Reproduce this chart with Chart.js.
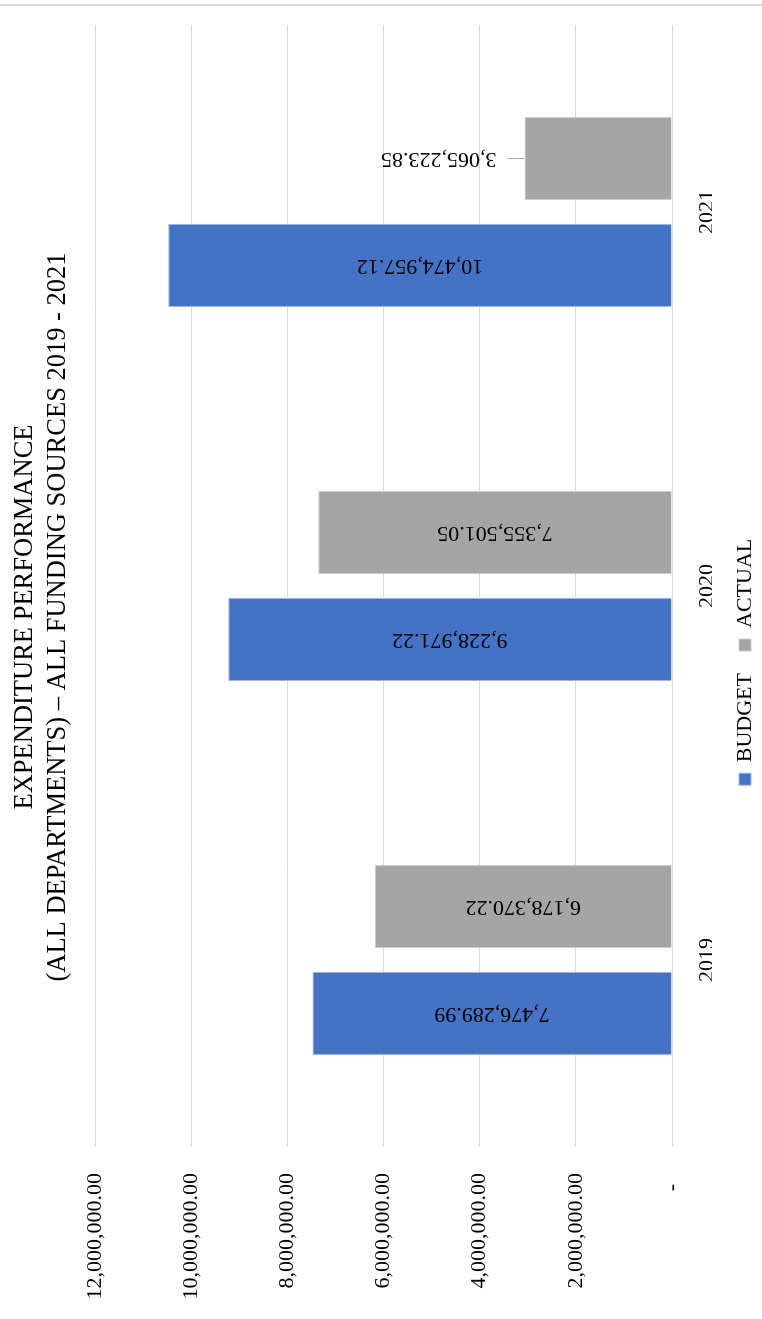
<!DOCTYPE html>
<html>
<head>
<meta charset="utf-8">
<title>Expenditure Performance 2019 - 2021</title>
<script src="https://cdn.jsdelivr.net/npm/chart.js@4/dist/chart.umd.min.js"></script>
<style>
  html, body { margin: 0; padding: 0; background: #ffffff; overflow: hidden; }
  body { width: 762px; height: 1319px; position: relative; }
  /* thin rule across the top of the page */
  .rule { position: absolute; left: 0; top: 4px; width: 762px; height: 2px; background: #d6d6d6; }
  /* the column chart is laid out landscape and turned a quarter turn */
  .frame {
    position: absolute; left: 0; top: 0;
    width: 1319px; height: 762px;
    transform-origin: 0 0;
    transform: translateY(1319px) rotate(-90deg);
  }
</style>
</head>
<body>
<div class="rule"></div>
<div class="frame"><canvas id="chart" width="1319" height="762"></canvas></div>
<script>
const categories = ['2019', '2020', '2021'];
const budget = [7476289.99, 9228971.22, 10474957.12];
const actual = [6178370.22, 7355501.05, 3065223.85];
const valueTicks = [0, 2000000, 4000000, 6000000, 8000000, 10000000, 12000000];
// accounting style: zero shows as a dash padded like the decimals
const valueTickLabels = ['-  ', '2,000,000.00', '4,000,000.00', '6,000,000.00', '8,000,000.00', '10,000,000.00', '12,000,000.00'];
const titleLines = ['EXPENDITURE PERFORMANCE', '(ALL DEPARTMENTS) \u2013 ALL FUNDING SOURCES 2019 - 2021'];

const SERIF = "'Liberation Serif', 'Times New Roman', serif";

function money(v) {
  return v.toLocaleString('en-US', { minimumFractionDigits: 2, maximumFractionDigits: 2 });
}

// Value labels written along each column; short columns get the label
// above the column with a small leader line.
const valueLabels = {
  id: 'valueLabels',
  afterDatasetsDraw(chart) {
    const ctx = chart.ctx;
    ctx.save();
    ctx.font = '22px ' + SERIF;
    ctx.fillStyle = '#000000';
    chart.data.datasets.forEach((ds, i) => {
      const meta = chart.getDatasetMeta(i);
      if (meta.hidden) return;
      meta.data.forEach((bar, j) => {
        const p = bar.getProps(['x', 'y', 'base'], true);
        const text = money(ds.data[j]);
        const w = ctx.measureText(text).width;
        const len = p.base - p.y;
        ctx.save();
        if (w + 56 > len) {
          ctx.strokeStyle = '#a6a6a6';
          ctx.lineWidth = 1;
          ctx.beginPath();
          ctx.moveTo(Math.round(p.x) + 0.5, p.y);
          ctx.lineTo(Math.round(p.x) + 0.5, p.y - 17);
          ctx.stroke();
          ctx.translate(p.x, p.y - 28);
          ctx.rotate(-Math.PI / 2);
          ctx.textAlign = 'left';
        } else {
          ctx.translate(p.x, (p.y + p.base) / 2);
          ctx.rotate(-Math.PI / 2);
          ctx.textAlign = 'center';
        }
        ctx.textBaseline = 'middle';
        ctx.fillText(text, 0, 0);
        ctx.restore();
      });
    });
    ctx.restore();
  }
};

// The heading sits a little right of the page centre.
const titlePlacement = {
  id: 'titlePlacement',
  afterLayout(chart) {
    const t = chart.titleBlock;
    if (t) { t.left += 90; t.width = t.right - t.left; }
  }
};

new Chart(document.getElementById('chart'), {
  type: 'bar',
  data: {
    labels: categories,
    datasets: [
      {
        label: 'BUDGET',
        data: budget,
        backgroundColor: '#4472C4',
        borderColor: '#9fb6e2',
        borderWidth: 1,
        categoryPercentage: 0.572,
        barPercentage: 0.776
      },
      {
        label: 'ACTUAL',
        data: actual,
        backgroundColor: '#A5A5A5',
        borderColor: '#cdcdcd',
        borderWidth: 1,
        categoryPercentage: 0.572,
        barPercentage: 0.776
      }
    ]
  },
  options: {
    responsive: false,
    animation: false,
    devicePixelRatio: 1,
    layout: { padding: { left: 20, right: 25, top: 0, bottom: -4 } },
    plugins: {
      title: {
        display: true,
        text: titleLines,
        color: '#000000',
        font: { family: SERIF, size: 26.5, weight: 'normal', lineHeight: '33px' },
        padding: { top: 8.5, bottom: 20.5 }
      },
      legend: {
        position: 'bottom',
        labels: {
          color: '#000000',
          font: { family: SERIF, size: 22 },
          boxWidth: 12,
          boxHeight: 12,
          padding: 22
        }
      },
      tooltip: { enabled: false }
    },
    scales: {
      x: {
        grid: { display: false },
        border: { display: false },
        ticks: {
          color: '#000000',
          font: { family: SERIF, size: 22 },
          padding: 14
        },
        afterFit(scale) { scale.height = 40; }
      },
      y: {
        min: 0,
        max: 12000000,
        grid: { color: '#d9d9d9', drawTicks: false },
        border: { display: false },
        afterBuildTicks(scale) {
          scale.ticks = valueTicks.map(v => ({ value: v }));
        },
        ticks: {
          color: '#000000',
          font: { family: SERIF, size: 22 },
          padding: 26,
          callback(value) {
            const k = valueTicks.indexOf(value);
            return k >= 0 ? valueTickLabels[k] : '';
          }
        },
        afterFit(scale) { scale.width = 152; }
      }
    }
  },
  plugins: [valueLabels, titlePlacement]
});
</script>
</body>
</html>
